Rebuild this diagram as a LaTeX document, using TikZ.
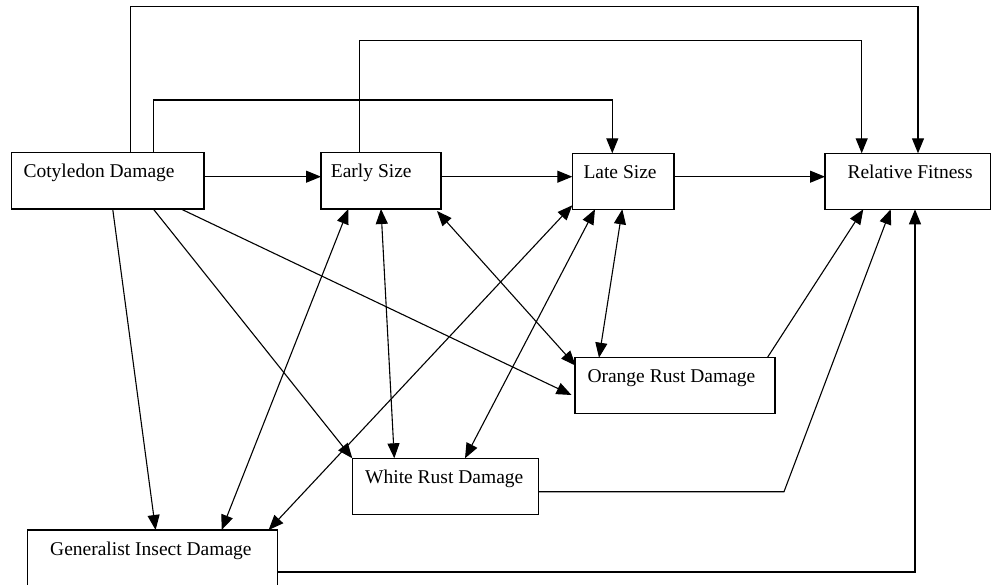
\documentclass[tikz,border=0pt]{standalone}
\usepackage{fontspec}
\setmainfont{Liberation Serif}
\usetikzlibrary{arrows.meta}
\begin{document}
\begin{tikzpicture}[x=1pt,y=-1pt,
  box/.style={draw, line width=1.1pt, inner sep=0pt, outer sep=0pt},
  lbl/.style={anchor=base west, inner sep=0pt, font=\fontsize{19.5}{22}\selectfont},
  con/.style={line width=1.1pt},
  arr/.style={con, -{Triangle[length=15pt,width=12pt]}},
  darr/.style={con, {Triangle[length=15pt,width=12pt]}-{Triangle[length=15pt,width=12pt]}}]
\useasboundingbox (0,0) rectangle (994,585);
\clip (0,0) rectangle (994,585);
% boxes
\node[box, minimum width=192.3pt, minimum height=56.3pt] (cot) at (107.85,180.85) {};
\node[box, minimum width=120pt, minimum height=56.3pt] (early) at (381,180.85) {};
\node[box, minimum width=101.7pt, minimum height=56pt] (late) at (623.15,181.3) {};
\node[box, minimum width=165.7pt, minimum height=56pt] (rf) at (907.85,181.3) {};
\node[box, minimum width=200pt, minimum height=55.6pt] (orange) at (675,385.5) {};
\node[box, minimum width=186pt, minimum height=56pt] (white) at (445.3,486.3) {};
\node[box, minimum width=250pt, minimum height=56pt] (gen) at (152.6,558) {};
% labels
\node[lbl] (tcot) at (23.3,178) {Cotyledon Damage};
\node[lbl] (tearly) at (330.7,178) {Early Size};
\node[lbl] (tlate) at (583.3,179) {Late Size};
\node[lbl] (trf) at (847.3,179) {Relative Fitness};
\node[lbl] (torange) at (587.3,382.3) {Orange Rust Damage};
\node[lbl] (twhite) at (365,483.3) {White Rust Damage};
\node[lbl] (tgen) at (50,555) {Generalist Insect Damage};
% top routed arrows
\draw[arr] ([xshift=119pt]cot.north west) -- ++(0,-146) -| ([xshift=93pt]rf.north west);
\draw[arr] ([xshift=38.3pt]early.north west) -- ++(0,-112) -| ([xshift=36.7pt]rf.north west);
\draw[arr] ([xshift=141.6pt]cot.north west) -- ++(0,-52.7) -| ([xshift=40pt]late.north west);
% horizontal chain
\draw[arr] (cot.east |- 0,176.7) -- (early.west |- 0,176.7);
\draw[arr] (early.east |- 0,176.7) -- (late.west |- 0,176.7);
\draw[arr] (late.east |- 0,176.7) -- (rf.west |- 0,176.7);
% from cotyledon
\draw[arr] ([xshift=101pt]cot.south west) -- ([xshift=128pt]gen.north west);
\draw[arr] ([xshift=141.6pt]cot.south west) -- (white.north west);
\draw[arr] ([xshift=169.3pt]cot.south west) -- ([xshift=-3.5pt,yshift=-37.3pt]orange.north west);
% early size correlations
\draw[darr] ([xshift=27.3pt]early.south west) -- ([xshift=194pt]gen.north west);
\draw[darr] ([xshift=60pt]early.south west) -- ([xshift=42pt]white.north west);
\draw[darr] ([xshift=-4pt,yshift=-2pt]early.south east) -- ([xshift=0.7pt,yshift=-8pt]orange.north west);
% late size correlations
\draw[darr] ([yshift=4pt]late.south west) -- ([xshift=-9pt]gen.north east);
\draw[darr] ([xshift=22.7pt]late.south west) -- ([xshift=112.7pt]white.north west);
\draw[darr] ([xshift=50pt]late.south west) -- ([xshift=24pt]orange.north west);
% to relative fitness
\draw[arr] ([xshift=-7.7pt]orange.north east) -- ([xshift=38.3pt]rf.south west);
\coordinate (wbend) at (784,491.7);
\draw[arr] (white.east |- wbend) -- (wbend) -- ([xshift=65.7pt]rf.south west);
\coordinate (gbend) at (915,572);
\draw[arr] (gen.east |- gbend) -- (gbend) -- ([xshift=90pt]rf.south west);
\end{tikzpicture}
\end{document}
